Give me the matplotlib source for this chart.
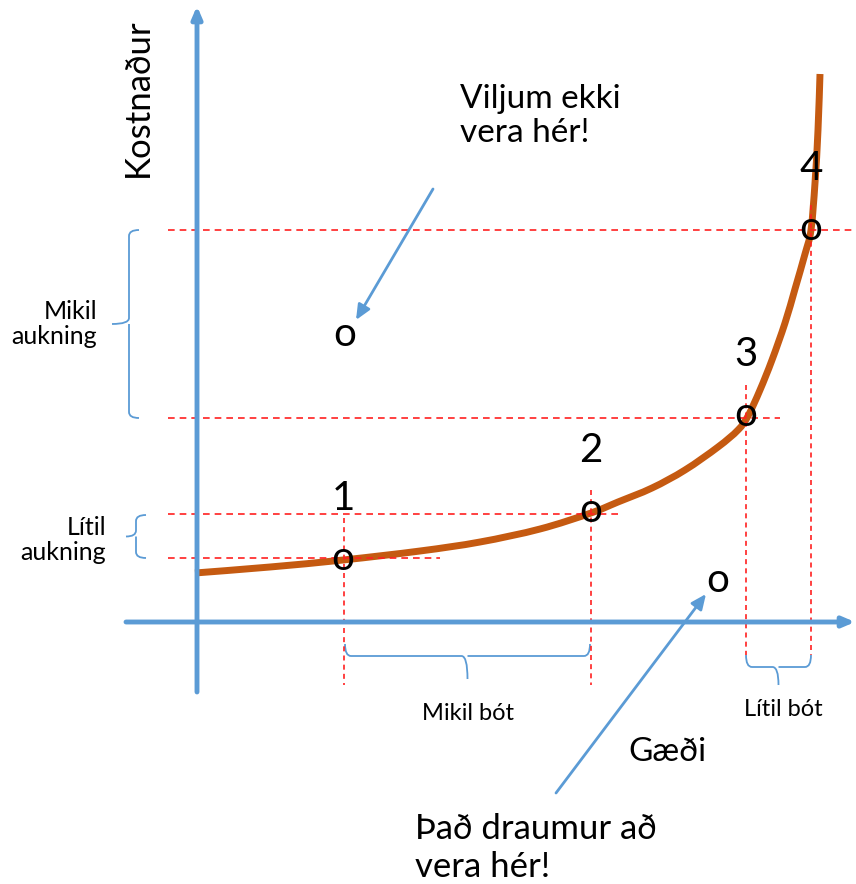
import numpy as np
import matplotlib.pyplot as plt
from matplotlib.path import Path
from matplotlib.patches import PathPatch

plt.rcParams['font.family'] = ['Lato', 'DejaVu Sans']

# cost curve (pixel coordinates, y down)
curve_x = [195, 270, 343, 420, 480, 540, 591, 618, 652, 685, 718, 738,
           748, 760, 772, 785, 795, 805, 811, 815, 818, 820]
curve_y = [573, 567, 560, 551, 542, 529, 513, 502, 488, 470, 447, 430,
           416, 390, 360, 323, 289, 254, 230, 183, 130, 74]

# the four marked points and their labels
pt_x = [343, 591, 746, 811]
pt_y = [560, 513, 416, 230]
pt_labels = ['1', '2', '3', '4']

# dashed guides: horizontal (y, x_start, x_end), vertical (x, y_start, y_end)
hguides = [(230, 168, 856), (418, 168, 780), (514, 168, 622), (558, 168, 440)]
vguides = [(344, 518, 685), (591, 490, 685), (746, 385, 655), (811, 205, 655)]

blue = '#5B9BD5'
red = '#FF2020'
orange = '#C55A11'

fig = plt.figure(figsize=(8.56, 8.84), dpi=100)
ax = fig.add_axes([0, 0, 1, 1])
ax.set_xlim(0, 856)
ax.set_ylim(884, 0)
ax.axis('off')

# axes arrows
head = '-|>,head_length=0.7,head_width=0.3'
ax.annotate('', xy=(197, 6), xytext=(197, 692), annotation_clip=False,
            arrowprops=dict(arrowstyle=head, color=blue, lw=3.5,
                            shrinkA=0, shrinkB=0))
ax.annotate('', xy=(855, 622), xytext=(126, 622), annotation_clip=False,
            arrowprops=dict(arrowstyle=head, color=blue, lw=3.5,
                            shrinkA=0, shrinkB=0))

for y, x0, x1 in hguides:
    ax.plot([x0, x1], [y, y], color=red, lw=1.2, ls=(0, (4, 3)))
for x, y0, y1 in vguides:
    ax.plot([x, x], [y0, y1], color=red, lw=1.2, ls=(0, (3, 2.5)))

# smooth line through the read points (Catmull-Rom as cubic Bezier segments)
P = np.column_stack([curve_x, curve_y]).astype(float)
verts = [tuple(P[0])]
codes = [Path.MOVETO]
for i in range(len(P) - 1):
    p0 = P[max(i - 1, 0)]
    p1, p2 = P[i], P[i + 1]
    p3 = P[min(i + 2, len(P) - 1)]
    verts += [tuple(p1 + (p2 - p0) / 6), tuple(p2 - (p3 - p1) / 6), tuple(p2)]
    codes += [Path.CURVE4] * 3
ax.add_patch(PathPatch(Path(verts, codes), fill=False, ec=orange, lw=5,
                       capstyle='butt'))

fs_o = 29
for x, y, lab in zip(pt_x, pt_y, pt_labels):
    ax.text(x, y - 2, 'o', fontsize=fs_o, ha='center', va='center')
    ax.text(x, y - 62, lab, fontsize=fs_o, ha='center', va='center')
ax.text(345, 334, 'o', fontsize=fs_o, ha='center', va='center')
ax.text(718, 581, 'o', fontsize=fs_o, ha='center', va='center')


def brace_v(x_tip, x_back, y0, y1, ax):
    # vertical curly brace opening to the right
    ym = (y0 + y1) / 2
    c = 6
    verts = [(x_back + 10, y0), (x_back, y0), (x_back, y0 + c), (x_back, y0 + c),
             (x_back, ym - c), (x_back, ym), (x_tip, ym),
             (x_back, ym), (x_back, ym + c), (x_back, ym + c),
             (x_back, y1 - c), (x_back, y1), (x_back + 10, y1)]
    codes = [Path.MOVETO, Path.CURVE3, Path.CURVE3, Path.LINETO,
             Path.LINETO, Path.CURVE3, Path.CURVE3,
             Path.MOVETO, Path.CURVE3, Path.CURVE3,
             Path.LINETO, Path.CURVE3, Path.CURVE3]
    ax.add_patch(PathPatch(Path(verts, codes), fill=False, ec=blue, lw=1.3))


def brace_h(y_tip, y_back, x0, x1, ax):
    # horizontal curly brace opening upward
    xm = (x0 + x1) / 2
    c = 6
    verts = [(x0, y_back - 12), (x0, y_back), (x0 + c, y_back), (x0 + c, y_back),
             (xm - c, y_back), (xm, y_back), (xm, y_tip),
             (xm, y_back), (xm, y_back), (xm + c, y_back),
             (x1 - c, y_back), (x1, y_back), (x1, y_back - 12)]
    codes = [Path.MOVETO, Path.CURVE3, Path.CURVE3, Path.LINETO,
             Path.LINETO, Path.CURVE3, Path.CURVE3,
             Path.MOVETO, Path.CURVE3, Path.CURVE3,
             Path.LINETO, Path.CURVE3, Path.CURVE3]
    ax.add_patch(PathPatch(Path(verts, codes), fill=False, ec=blue, lw=1.3))


brace_v(112, 129, 230, 418, ax)
brace_v(126, 136, 515, 558, ax)
brace_h(679, 656, 345, 590, ax)
brace_h(685, 667, 746, 811, ax)

ax.text(138, 98, 'Kostnaður', fontsize=25, rotation=90, ha='center', va='center')
ax.text(460, 116, 'Viljum ekki\nvera hér!', fontsize=24, ha='left', va='center',
        linespacing=1.2)
ax.text(97, 324, 'Mikil\naukning', fontsize=18, ha='right', va='center',
        multialignment='right', linespacing=1.15)
ax.text(106, 540, 'Lítil\naukning', fontsize=18, ha='right', va='center',
        multialignment='right', linespacing=1.15)
ax.text(468, 713, 'Mikil bót', fontsize=17, ha='center', va='center')
ax.text(783, 710, 'Lítil bót', fontsize=17, ha='center', va='center')
ax.text(628, 752, 'Gæði', fontsize=24, ha='left', va='center')
ax.text(415, 848, 'Það draumur að\nvera hér!', fontsize=25, ha='left', va='center',
        linespacing=1.2)

ax.annotate('', xy=(356, 320), xytext=(433, 189),
            arrowprops=dict(arrowstyle='-|>,head_length=0.9,head_width=0.4',
                            color=blue, lw=2, shrinkA=0, shrinkB=0))
ax.annotate('', xy=(706, 594), xytext=(556, 793),
            arrowprops=dict(arrowstyle='-|>,head_length=0.9,head_width=0.4',
                            color=blue, lw=2, shrinkA=0, shrinkB=0))

fig.savefig('out.png', dpi=100, facecolor='white')
